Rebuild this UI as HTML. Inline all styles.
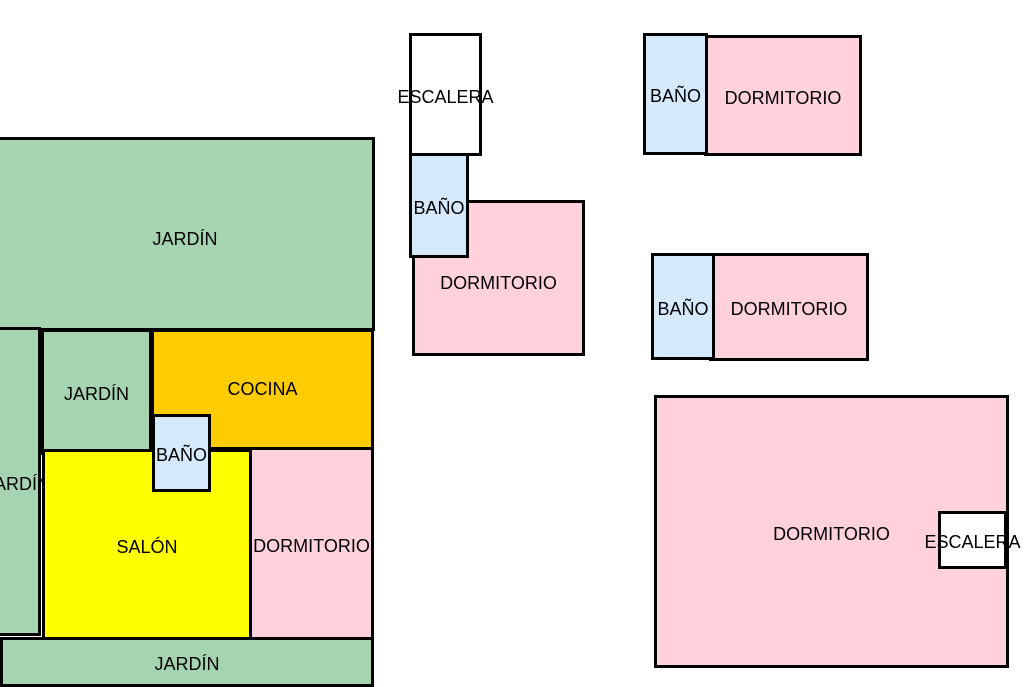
<!DOCTYPE html>
<html><head><meta charset="utf-8"><style>
body{margin:0;width:1024px;height:682px;overflow:hidden;background:#fff;position:relative;font-family:"Liberation Sans",Arial,sans-serif;}
.r{position:absolute;box-sizing:border-box;border:3px solid #000;display:flex;align-items:center;justify-content:center;font-size:18px;color:#000;white-space:nowrap;padding-top:5px;}
.g{background:#a6d4b0}.o{background:#ffcc00}.y{background:#ffff00}.p{background:#ffd1dc}.b{background:#d4e9fb}.w{background:#fff}
</style></head><body>
<div class="r g" style="left:-5px;top:137px;width:380px;height:194px;padding-top:10px">JARDÍN</div>
<div class="r g" style="left:-6px;top:327px;width:47px;height:309px">JARDÍN</div>
<div class="r g" style="left:41px;top:329px;width:111px;height:126px">JARDÍN</div>
<div class="r o" style="left:151px;top:329px;width:223px;height:121px;padding-top:0px">COCINA</div>
<div class="r y" style="left:42px;top:449px;width:210px;height:191px">SALÓN</div>
<div class="r p" style="left:249px;top:447px;width:125px;height:193px">DORMITORIO</div>
<div class="r b" style="left:152px;top:414px;width:59px;height:78px">BAÑO</div>
<div class="r g" style="left:0px;top:637px;width:374px;height:50px">JARDÍN</div>

<div class="r w" style="left:409px;top:33px;width:73px;height:123px">ESCALERA</div>
<div class="r p" style="left:412px;top:200px;width:173px;height:156px;align-items:flex-start;padding-top:70px">DORMITORIO</div>
<div class="r b" style="left:409px;top:153px;width:60px;height:105px">BAÑO</div>

<div class="r p" style="left:704px;top:35px;width:158px;height:121px">DORMITORIO</div>
<div class="r b" style="left:643px;top:33px;width:65px;height:122px">BAÑO</div>

<div class="r p" style="left:709px;top:253px;width:160px;height:108px">DORMITORIO</div>
<div class="r b" style="left:651px;top:253px;width:64px;height:107px">BAÑO</div>

<div class="r p" style="left:654px;top:395px;width:355px;height:273px">DORMITORIO</div>
<div class="r w" style="left:938px;top:511px;width:69px;height:58px">ESCALERA</div>
</body></html>
